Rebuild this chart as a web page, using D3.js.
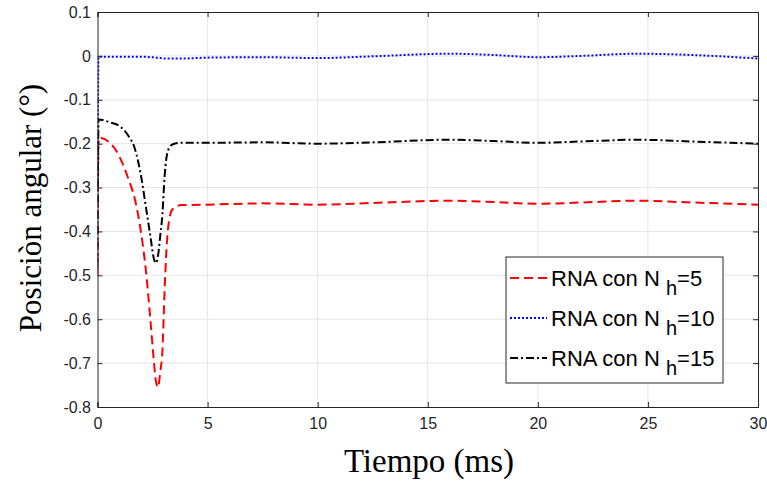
<!DOCTYPE html>
<html>
<head>
<meta charset="utf-8">
<script src="https://cdn.jsdelivr.net/npm/d3@7"></script>
<style>
  body { margin: 0; background: #fff; }
  svg { display: block; }
</style>
</head>
<body>
<div id="chart"></div>
<script>
var width = 767, height = 482;

// time (ms)
var tiempo = [0, 0.05, 0.6, 1.0, 1.4, 1.7, 2.0, 2.2, 2.4, 2.55, 2.65, 2.75, 2.85, 2.95, 3.05, 3.2, 3.4, 3.8,
              5, 7.5, 10, 12.5, 16, 18, 20, 22, 24.5, 27, 30];
// posicion angular, one array per network size
var nh5 = [-0.5, -0.186, -0.2, -0.23, -0.28, -0.327, -0.41, -0.49, -0.6, -0.69, -0.74, -0.755, -0.72, -0.67, -0.53, -0.395, -0.35, -0.34,
           -0.339, -0.336, -0.339, -0.335, -0.33, -0.333, -0.337, -0.334, -0.33, -0.334, -0.339];
var nh10 = [-0.3, -0.002, -0.002, -0.002, -0.002, -0.002, -0.002, -0.002, -0.003, -0.003, -0.004, -0.004, -0.005, -0.005, -0.006, -0.006, -0.006, -0.006,
            -0.004, -0.003, -0.005, -0.001, 0.005, 0.002, -0.003, 0, 0.005, 0.002, -0.006];
var nh15 = [-0.48, -0.145, -0.152, -0.16, -0.182, -0.212, -0.28, -0.345, -0.41, -0.46, -0.472, -0.455, -0.41, -0.36, -0.273, -0.216, -0.202, -0.198,
            -0.198, -0.197, -0.2, -0.197, -0.191, -0.194, -0.198, -0.195, -0.191, -0.195, -0.2];

var xTicks = [0, 5, 10, 15, 20, 25, 30];
var yTicks = [0.1, 0, -0.1, -0.2, -0.3, -0.4, -0.5, -0.6, -0.7, -0.8];
var seriesNames = ["5", "10", "15"];

var pLeft = 97.5, pRight = 758, pTop = 12, pBottom = 407;
var axisColor = "#262626";

var x = d3.scaleLinear().domain([0, 30]).range([pLeft, pRight]);
var y = d3.scaleLinear().domain([-0.8, 0.1]).range([pBottom, pTop]);

var svg = d3.select("#chart").append("svg")
    .attr("width", width)
    .attr("height", height);

svg.append("rect").attr("width", width).attr("height", height).attr("fill", "#fff");

// grid
svg.append("g").selectAll("line").data(xTicks.slice(1, -1)).enter().append("line")
    .attr("x1", function (d) { return x(d); }).attr("x2", function (d) { return x(d); })
    .attr("y1", pTop).attr("y2", pBottom)
    .attr("stroke", "#e6e6e6").attr("stroke-width", 1);
svg.append("g").selectAll("line").data(yTicks.slice(1, -1)).enter().append("line")
    .attr("y1", function (d) { return y(d); }).attr("y2", function (d) { return y(d); })
    .attr("x1", pLeft).attr("x2", pRight)
    .attr("stroke", "#e6e6e6").attr("stroke-width", 1);

// lines
svg.append("clipPath").attr("id", "clip").append("rect")
    .attr("x", pLeft).attr("y", pTop).attr("width", pRight - pLeft).attr("height", pBottom - pTop);

var line = d3.line()
    .x(function (d, i) { return x(tiempo[i]); })
    .y(function (d) { return y(d); })
    .curve(d3.curveMonotoneX);

var styles = [
    { data: nh5, color: "#ff0000", dash: "9,5", width: 2 },
    { data: nh10, color: "#0000ff", dash: "2,2", width: 2 },
    { data: nh15, color: "#000000", dash: "8,3,2,3", width: 2 }
];

var plot = svg.append("g").attr("clip-path", "url(#clip)");
styles.forEach(function (s) {
    plot.append("path")
        .attr("d", line(s.data))
        .attr("fill", "none")
        .attr("stroke", s.color)
        .attr("stroke-width", s.width)
        .attr("stroke-dasharray", s.dash);
});

// axes (box with inward ticks)
var axB = d3.axisBottom(x).tickValues(xTicks).tickSize(-5).tickPadding(11).tickFormat(d3.format("d"));
var axT = d3.axisTop(x).tickValues(xTicks).tickSize(-5).tickFormat("");
var axL = d3.axisLeft(y).tickValues(yTicks).tickSize(-5).tickPadding(6.5).tickFormat(function (d) {
    return d === 0 ? "0" : d3.format(".1f")(d).replace("\u2212", "-");
});
var axR = d3.axisRight(y).tickValues(yTicks).tickSize(-5).tickFormat("");

[[axB, "translate(0," + pBottom + ")"], [axT, "translate(0," + pTop + ")"],
 [axL, "translate(" + pLeft + ",0)"], [axR, "translate(" + pRight + ",0)"]].forEach(function (a) {
    var g = svg.append("g").attr("transform", a[1]).call(a[0]);
    g.select(".domain").attr("stroke", axisColor);
    g.selectAll(".tick line").attr("stroke", axisColor);
    g.selectAll("text").attr("fill", axisColor)
        .style("font-family", "'Liberation Sans', Arial, sans-serif").style("font-size", "16px");
});

// axis titles
svg.append("text")
    .attr("x", 429).attr("y", 472)
    .attr("text-anchor", "middle")
    .style("font-family", "'Liberation Serif', 'Times New Roman', serif").style("font-size", "33px")
    .text("Tiempo (ms)");
svg.append("text")
    .attr("transform", "translate(41," + 208 + ") rotate(-90)")
    .attr("text-anchor", "middle")
    .style("font-family", "'Liberation Serif', 'Times New Roman', serif").style("font-size", "31px")
    .text("Posiciòn angular (°)");

// legend
var lg = svg.append("g");
lg.append("rect").attr("x", 506).attr("y", 257).attr("width", 217).attr("height", 126)
    .attr("fill", "#fff").attr("stroke", axisColor).attr("stroke-width", 1);
styles.forEach(function (s, i) {
    var cy = 278 + i * 40;
    lg.append("line").attr("x1", 510).attr("x2", 547).attr("y1", cy).attr("y2", cy)
        .attr("stroke", s.color).attr("stroke-width", s.width).attr("stroke-dasharray", s.dash);
    var t = lg.append("text").attr("x", 551).attr("y", cy + 8)
        .style("font-family", "'Liberation Sans', Arial, sans-serif").style("font-size", "22px")
        .attr("fill", "#000");
    t.append("tspan").text("RNA con N ");
    t.append("tspan").attr("dy", 9).style("font-size", "20px").text("h");
    t.append("tspan").attr("dy", -9).text("=" + seriesNames[i]);
});
</script>
</body>
</html>
